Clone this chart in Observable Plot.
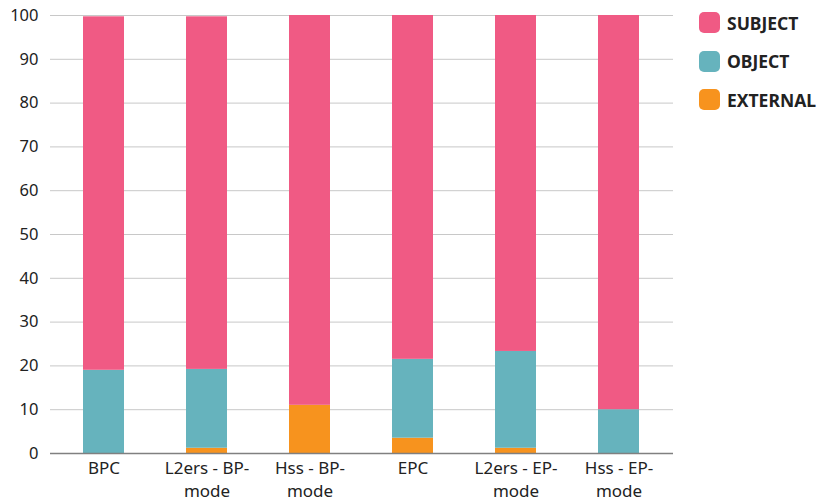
<!DOCTYPE html>
<html><head><meta charset="utf-8">
<script src="https://cdn.jsdelivr.net/npm/d3@7"></script>
<script src="https://cdn.jsdelivr.net/npm/@observablehq/plot@0.6"></script>
<style>
body{margin:0;background:#fff;font-family:"Noto Sans",sans-serif;}
#wrap{position:relative;width:828px;height:503px;}
#legend{position:absolute;left:699px;top:12px;}
.li{display:flex;align-items:center;height:21px;margin-bottom:17.5px;font-weight:bold;font-size:17.5px;color:#222;}
.sw{width:21px;height:21px;border-radius:5px;margin-right:7px;}
</style></head>
<body><div id="wrap"><div id="legend"></div></div>
<script>
const categories = ["BPC","L2ers - BP-mode","Hss - BP-mode","EPC","L2ers - EP-mode","Hss - EP-mode"];
const labels = ["BPC","L2ers - BP-\nmode","Hss - BP-\nmode","EPC","L2ers - EP-\nmode","Hss - EP-\nmode"];
const seriesNames = ["EXTERNAL","OBJECT","SUBJECT"];
const external = [0, 1.2, 11, 3.5, 1.2, 0];
const object = [19, 18, 0, 18, 22.1, 10];
const subject = [80.7, 80.5, 89, 78.5, 76.7, 90];
const colors = {SUBJECT:"#F05A84", OBJECT:"#66B3BD", EXTERNAL:"#F7931E"};
const legendOrder = ["SUBJECT","OBJECT","EXTERNAL"];
const yTicks = [0,10,20,30,40,50,60,70,80,90,100];

const vals = {EXTERNAL: external, OBJECT: object, SUBJECT: subject};
const data = [];
for (const s of seriesNames) categories.forEach((c,i)=>data.push({cat:c, series:s, value:vals[s][i]}));
const labelOf = Object.fromEntries(categories.map((c,i)=>[c,labels[i]]));

const chart = Plot.plot({
  width: 828, height: 503,
  marginLeft: 50, marginRight: 155, marginTop: 15, marginBottom: 50,
  style: {fontFamily:"'Noto Sans', sans-serif", fontSize:"16px", color:"#222", background:"#fff"},
  x: {domain: categories, paddingInner: 0.6, paddingOuter: 0.3, label: null},
  y: {domain: [0,100], label: null},
  color: {domain: legendOrder, range: legendOrder.map(k=>colors[k])},
  marks: [
    Plot.gridY(yTicks, {stroke:"#c8c8c8", strokeOpacity:1, strokeWidth:1}),
    Plot.axisY(yTicks, {tickSize:0, tickPadding:12, fontSize:16.5, label:null}),
    Plot.barY(data, {x:"cat", y:"value", fill: d=>colors[d.series]}),
    Plot.ruleY([0], {stroke:"#808080", strokeWidth:1.5}),
    Plot.axisX({tickSize:0, tickPadding:4, fontSize:17, lineHeight:1.35, tickFormat: d=>labelOf[d], label:null})
  ]
});
document.getElementById("wrap").prepend(chart);
const lg = document.getElementById("legend");
for (const k of legendOrder){
  const d = document.createElement("div"); d.className="li";
  d.innerHTML = `<div class="sw" style="background:${colors[k]}"></div><span>${k}</span>`;
  lg.appendChild(d);
}
</script></body></html>
